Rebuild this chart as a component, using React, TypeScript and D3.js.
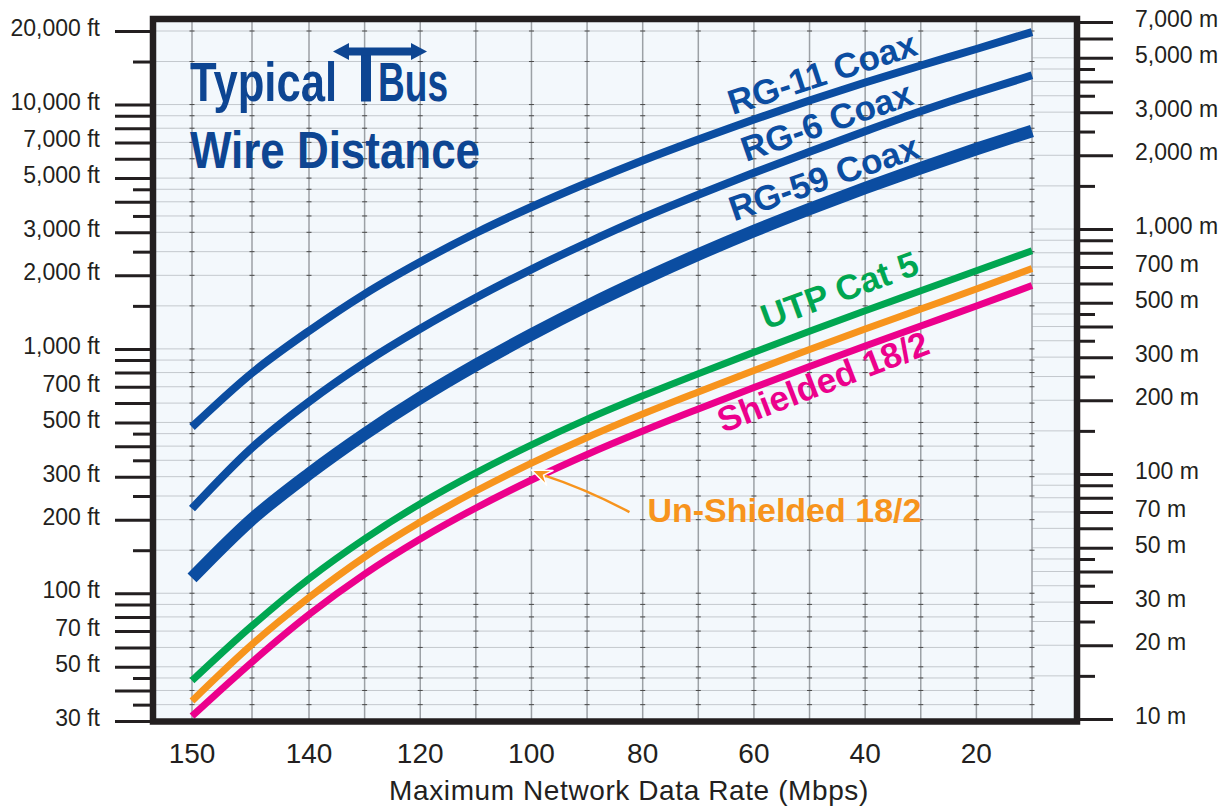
import { useEffect, useRef } from 'react';
import * as d3 from 'd3';

// data rate (Mbps) at each vertical grid line, left to right
const rates = [150, 145, 140, 130, 120, 110, 100, 90, 80, 70, 60, 50, 40, 30, 20, 10];
const rateLabels = [150, 140, 120, 100, 80, 60, 40, 20];

// maximum wire distance in feet at each rate
const rg11 = [479, 797, 1184, 1677, 2268, 2981, 3808, 4773, 5902, 7194, 8687, 10390, 12310, 14450, 16880, 19810];
const rg6 = [222, 394, 608, 877, 1209, 1619, 2117, 2718, 3440, 4272, 5256, 6406, 7775, 9385, 11170, 13175];
const rg59 = [115.5, 201, 308, 448, 630, 859, 1145, 1498, 1923, 2434, 3037, 3737, 4555, 5499, 6578, 7796];
const utpCat5 = [43.9, 73.6, 114.7, 167, 232.5, 311, 405, 516, 643, 792, 969, 1182, 1433, 1730, 2089, 2522];
const unShielded = [36.2, 61.7, 96, 140.7, 195.6, 262, 341, 434, 541, 666, 816, 994, 1206, 1456, 1759, 2133];
const shielded = [31.4, 52.3, 81.8, 119.8, 166.7, 223.3, 290.7, 369.7, 461, 567.5, 695, 847, 1027, 1241, 1498, 1817];

const ftTicks = [30, 40, 50, 60, 70, 80, 90, 100, 200, 300, 400, 500, 600, 700, 800, 900, 1000, 2000, 3000, 4000, 5000, 6000, 7000, 8000, 9000, 10000, 20000];
const ftMinor = [35, 45, 150, 250, 350, 450, 1500, 2500, 3500, 4500, 15000];
const ftLabels = [20000, 10000, 7000, 5000, 3000, 2000, 1000, 700, 500, 300, 200, 100, 70, 50, 30];

const mTicks = [10, 20, 30, 40, 50, 60, 70, 80, 90, 100, 200, 300, 400, 500, 600, 700, 800, 900, 1000, 2000, 3000, 4000, 5000, 6000, 7000];
const mMinor = [15, 25, 35, 45, 150, 250, 350, 450, 1500, 2500, 3500, 4500];
const mLabels = [7000, 5000, 3000, 2000, 1000, 700, 500, 300, 200, 100, 70, 50, 30, 20, 10];

const FONT = 'Liberation Sans, Arial, Helvetica, sans-serif';
const INK = '#231f20';
const BLUE = '#0b4da1';

export default function App() {
  const ref = useRef<SVGSVGElement | null>(null);

  useEffect(() => {
    if (!ref.current) return;
    const svg = d3.select(ref.current);
    svg.selectAll('*').remove();

    const frame = { left: 153, right: 1077, top: 19, bottom: 721.5 };
    const x = d3.scaleLinear().domain([150, 145, 140, 10]).range([192, 252, 309, 1032]);
    const yFt = d3.scaleLog().domain([30, 20000]).range([721, 31]);
    const yM = d3.scaleLog().domain([10, 7000]).range([719, 22]);
    const xEnd = x(10);

    const valueAt = (values: number[], r: number) =>
      Math.pow(10, d3.scaleLinear().domain(rates).range(values.map(Math.log10))(r));

    // plot background
    svg
      .append('rect')
      .attr('x', frame.left)
      .attr('y', frame.top)
      .attr('width', frame.right - frame.left)
      .attr('height', frame.bottom - frame.top)
      .attr('fill', '#f3f8fc');

    const grid = svg.append('g');
    [...ftTicks, ...ftMinor].forEach(v => {
      grid
        .append('line')
        .attr('x1', frame.left)
        .attr('x2', xEnd)
        .attr('y1', yFt(v))
        .attr('y2', yFt(v))
        .attr('stroke', '#c4c9ce')
        .attr('stroke-width', 1);
    });
    [...mTicks, ...mMinor].forEach(v => {
      grid
        .append('line')
        .attr('x1', xEnd)
        .attr('x2', frame.right)
        .attr('y1', yM(v))
        .attr('y2', yM(v))
        .attr('stroke', '#c4c9ce')
        .attr('stroke-width', 1);
    });
    rates.forEach(r => {
      grid
        .append('line')
        .attr('x1', x(r))
        .attr('x2', x(r))
        .attr('y1', frame.top)
        .attr('y2', frame.bottom)
        .attr('stroke', '#9ca1a6')
        .attr('stroke-width', 1.5);
      // little dark crossing marks
      [...ftTicks, ...ftMinor].forEach(v => {
        if (yFt(v) < frame.top + 3) return;
        grid
          .append('line')
          .attr('x1', x(r) - 2.5)
          .attr('x2', x(r) + 2.5)
          .attr('y1', yFt(v))
          .attr('y2', yFt(v))
          .attr('stroke', '#4a4a4a')
          .attr('stroke-width', 1);
      });
    });

    // title
    const title = svg.append('g').attr('fill', '#0d4592').attr('font-family', FONT).attr('font-weight', 700);
    title
      .append('text')
      .attr('x', 190)
      .attr('y', 101)
      .attr('font-size', 55)
      .attr('textLength', 147)
      .attr('lengthAdjust', 'spacingAndGlyphs')
      .text('Typical');
    title.append('rect').attr('x', 361).attr('y', 51).attr('width', 10).attr('height', 50.5);
    title.append('rect').attr('x', 345).attr('y', 47.5).attr('width', 70).attr('height', 8);
    title.append('path').attr('d', 'M333,51.5 L349,43 L349,60 Z');
    title.append('path').attr('d', 'M427,51.5 L411,43 L411,60 Z');
    title
      .append('text')
      .attr('x', 378)
      .attr('y', 101)
      .attr('font-size', 55)
      .attr('textLength', 70)
      .attr('lengthAdjust', 'spacingAndGlyphs')
      .text('Bus');
    title
      .append('text')
      .attr('x', 190)
      .attr('y', 168)
      .attr('font-size', 52)
      .attr('textLength', 290)
      .attr('lengthAdjust', 'spacingAndGlyphs')
      .text('Wire Distance');

    // curves
    const line = d3
      .line<[number, number]>()
      .x(d => x(d[0]))
      .y(d => yFt(d[1]))
      .curve(d3.curveMonotoneX);

    const series = [
      { name: 'RG-11 Coax', values: rg11, color: BLUE, width: 8, at: 46.5, angle: -18, dy: -10 },
      { name: 'RG-6 Coax', values: rg6, color: BLUE, width: 8, at: 45.6, angle: -19, dy: -10.5 },
      { name: 'RG-59 Coax', values: rg59, color: BLUE, width: 12.5, at: 46, angle: -19, dy: -12 },
      { name: 'UTP Cat 5', values: utpCat5, color: '#00a651', width: 7, at: 42.9, angle: -20, dy: -16 },
      { name: '', values: unShielded, color: '#f7941d', width: 7, at: 0, angle: 0, dy: 0 },
      { name: 'Shielded 18/2', values: shielded, color: '#ec008c', width: 7, at: 48.8, angle: -21, dy: 31 },
    ];

    series.forEach(s => {
      svg
        .append('path')
        .datum(rates.map((r, i) => [r, s.values[i]] as [number, number]))
        .attr('fill', 'none')
        .attr('stroke', s.color)
        .attr('stroke-width', s.width)
        .attr('d', line);
    });

    series
      .filter(s => s.name)
      .forEach(s => {
        svg
          .append('text')
          .attr('transform', `translate(${x(s.at)},${yFt(valueAt(s.values, s.at))}) rotate(${s.angle})`)
          .attr('y', s.dy)
          .attr('text-anchor', 'middle')
          .attr('font-family', FONT)
          .attr('font-weight', 700)
          .attr('font-size', 35)
          .attr('fill', s.color)
          .text(s.name);
      });

    // un-shielded call-out
    const tipX = x(100);
    const tipY = yFt(valueAt(unShielded, 100)) + 7;
    svg
      .append('path')
      .attr('d', `M${tipX + 12},${tipY + 5} Q${tipX + 55},${tipY + 19} ${tipX + 98},${tipY + 42}`)
      .attr('fill', 'none')
      .attr('stroke', '#f7941d')
      .attr('stroke-width', 2.5);
    svg
      .append('path')
      .attr(
        'd',
        `M${tipX},${tipY} L${tipX + 21.5},${tipY + 0.5} L${tipX + 12},${tipY + 5} L${tipX + 15.2},${tipY + 15.2} Z`
      )
      .attr('fill', '#f7941d')
      .attr('stroke', '#ffffff')
      .attr('stroke-width', 1.5)
      .attr('stroke-linejoin', 'round');
    svg
      .append('text')
      .attr('x', tipX + 116)
      .attr('y', tipY + 52)
      .attr('font-family', FONT)
      .attr('font-weight', 700)
      .attr('font-size', 34)
      .attr('fill', '#f7941d')
      .text('Un-Shielded 18/2');

    // frame
    svg
      .append('rect')
      .attr('x', frame.left)
      .attr('y', frame.top)
      .attr('width', frame.right - frame.left)
      .attr('height', frame.bottom - frame.top)
      .attr('fill', 'none')
      .attr('stroke', INK)
      .attr('stroke-width', 6.5);

    // axes ticks
    const styleAxis = (g: d3.Selection<SVGGElement, unknown, null, undefined>) => {
      g.select('.domain').remove();
      g.selectAll('line').attr('stroke', INK).attr('stroke-width', 3);
    };
    svg
      .append('g')
      .attr('transform', 'translate(150,0)')
      .call(d3.axisLeft(yFt).tickValues(ftTicks).tickSize(35).tickFormat(() => ''))
      .call(styleAxis);
    svg
      .append('g')
      .attr('transform', 'translate(150,0)')
      .call(d3.axisLeft(yFt).tickValues(ftMinor).tickSize(17).tickFormat(() => ''))
      .call(styleAxis);
    svg
      .append('g')
      .attr('transform', 'translate(1080,0)')
      .call(d3.axisRight(yM).tickValues(mTicks).tickSize(33).tickFormat(() => ''))
      .call(styleAxis);
    svg
      .append('g')
      .attr('transform', 'translate(1080,0)')
      .call(d3.axisRight(yM).tickValues(mMinor).tickSize(15).tickFormat(() => ''))
      .call(styleAxis);

    const fmt = d3.format(',');
    const labels = svg.append('g').attr('font-family', FONT).attr('fill', INK);
    ftLabels.forEach(v => {
      labels
        .append('text')
        .attr('x', 100)
        .attr('y', yFt(v) - 3)
        .attr('dy', '0.35em')
        .attr('text-anchor', 'end')
        .attr('font-size', 23)
        .text(`${fmt(v)} ft`);
    });
    mLabels.forEach(v => {
      labels
        .append('text')
        .attr('x', 1135)
        .attr('y', yM(v) - 3)
        .attr('dy', '0.35em')
        .attr('font-size', 23)
        .text(`${fmt(v)} m`);
    });
    rateLabels.forEach(r => {
      labels
        .append('text')
        .attr('x', x(r))
        .attr('y', 763)
        .attr('text-anchor', 'middle')
        .attr('font-size', 28)
        .text(r);
    });
    labels
      .append('text')
      .attr('x', 629)
      .attr('y', 800)
      .attr('text-anchor', 'middle')
      .attr('font-size', 28)
      .attr('letter-spacing', 0.6)
      .text('Maximum Network Data Rate (Mbps)');
  }, []);

  return (
    <div style={{ position: 'absolute', left: 0, top: 0, background: '#fff' }}>
      <svg ref={ref} width={1226} height={809} style={{ display: 'block' }} />
    </div>
  );
}
